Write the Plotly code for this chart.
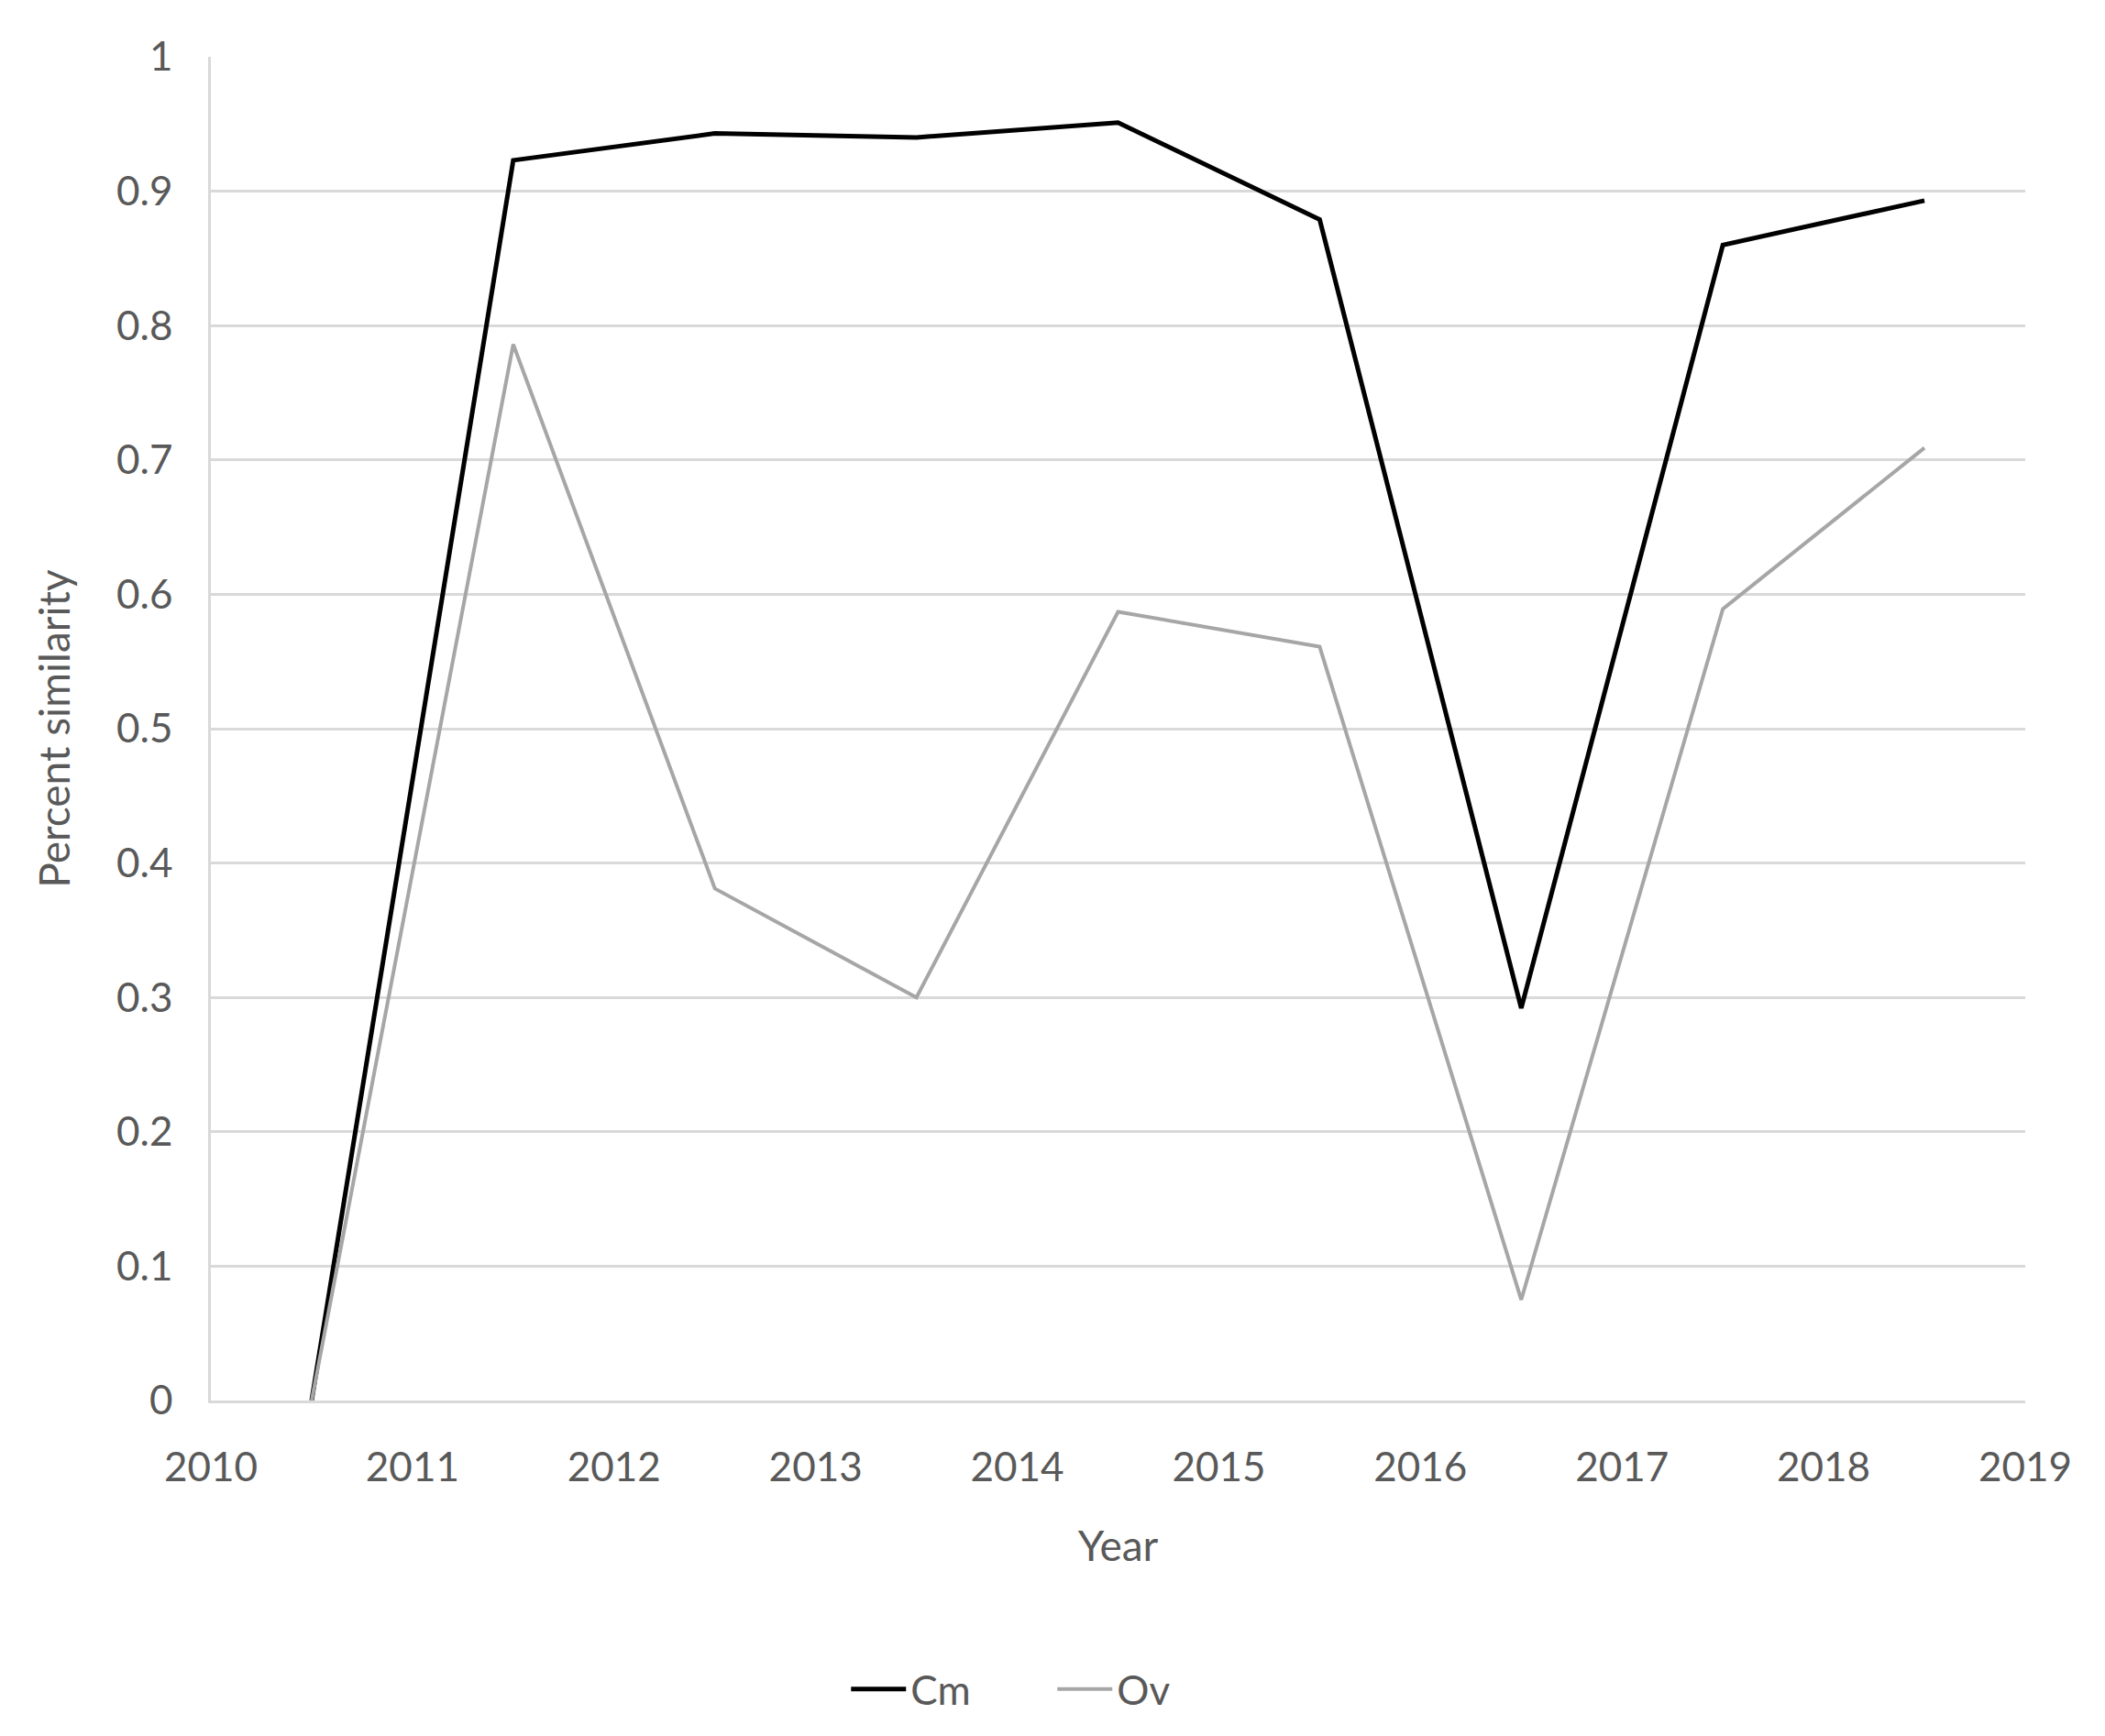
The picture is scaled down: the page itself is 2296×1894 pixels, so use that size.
import plotly.graph_objects as go

# category midpoints sit between the year ticks, like an Excel category axis
years = [2010.5, 2011.5, 2012.5, 2013.5, 2014.5, 2015.5, 2016.5, 2017.5, 2018.5]
cm_values = [0.0, 0.923, 0.943, 0.940, 0.951, 0.879, 0.292, 0.860, 0.893]
ov_values = [0.0, 0.786, 0.381, 0.300, 0.587, 0.561, 0.075, 0.589, 0.709]
x_ticks = [2010, 2011, 2012, 2013, 2014, 2015, 2016, 2017, 2018, 2019]
y_ticks = [0, 0.1, 0.2, 0.3, 0.4, 0.5, 0.6, 0.7, 0.8, 0.9, 1]

FONT = "Lato, 'Open Sans', sans-serif"
TEXT = "#595959"
GRID = "#d9d9d9"

fig = go.Figure()
fig.add_trace(go.Scatter(
    x=years, y=cm_values, name="Cm", mode="lines",
    line=dict(color="#000000", width=5),
))
fig.add_trace(go.Scatter(
    x=years, y=ov_values, name="Ov", mode="lines",
    line=dict(color="#a6a6a6", width=4),
))

fig.update_layout(
    width=2296, height=1894,
    paper_bgcolor="white", plot_bgcolor="white",
    margin=dict(l=222, r=95, t=54, b=374),
    font=dict(family=FONT, size=44, color=TEXT),
    showlegend=True,
    legend=dict(
        orientation="h", x=0.464, xanchor="center", y=-0.215, yanchor="middle",
        font=dict(size=44, color=TEXT), itemwidth=60,
        entrywidth=150, entrywidthmode="pixels",
    ),
    xaxis=dict(
        range=[2010, 2019], tickvals=x_ticks, ticktext=[str(v) for v in x_ticks],
        showgrid=False, zeroline=False, showline=True, linecolor=GRID, linewidth=3,
        ticks="", ticklabelstandoff=32, automargin=False,
        title=dict(text="Year", font=dict(size=46, color=TEXT), standoff=48),
    ),
    yaxis=dict(
        range=[0, 1], tickvals=y_ticks, ticktext=[f"{v:g}" for v in y_ticks],
        showgrid=True, gridcolor=GRID, gridwidth=2.5,
        zeroline=False, showline=True, linecolor=GRID, linewidth=2.5,
        ticks="", ticklabelstandoff=30, automargin=False,
        title=dict(text="Percent similarity", font=dict(size=46, color=TEXT), standoff=36),
    ),
)

fig.write_html("out.html")
